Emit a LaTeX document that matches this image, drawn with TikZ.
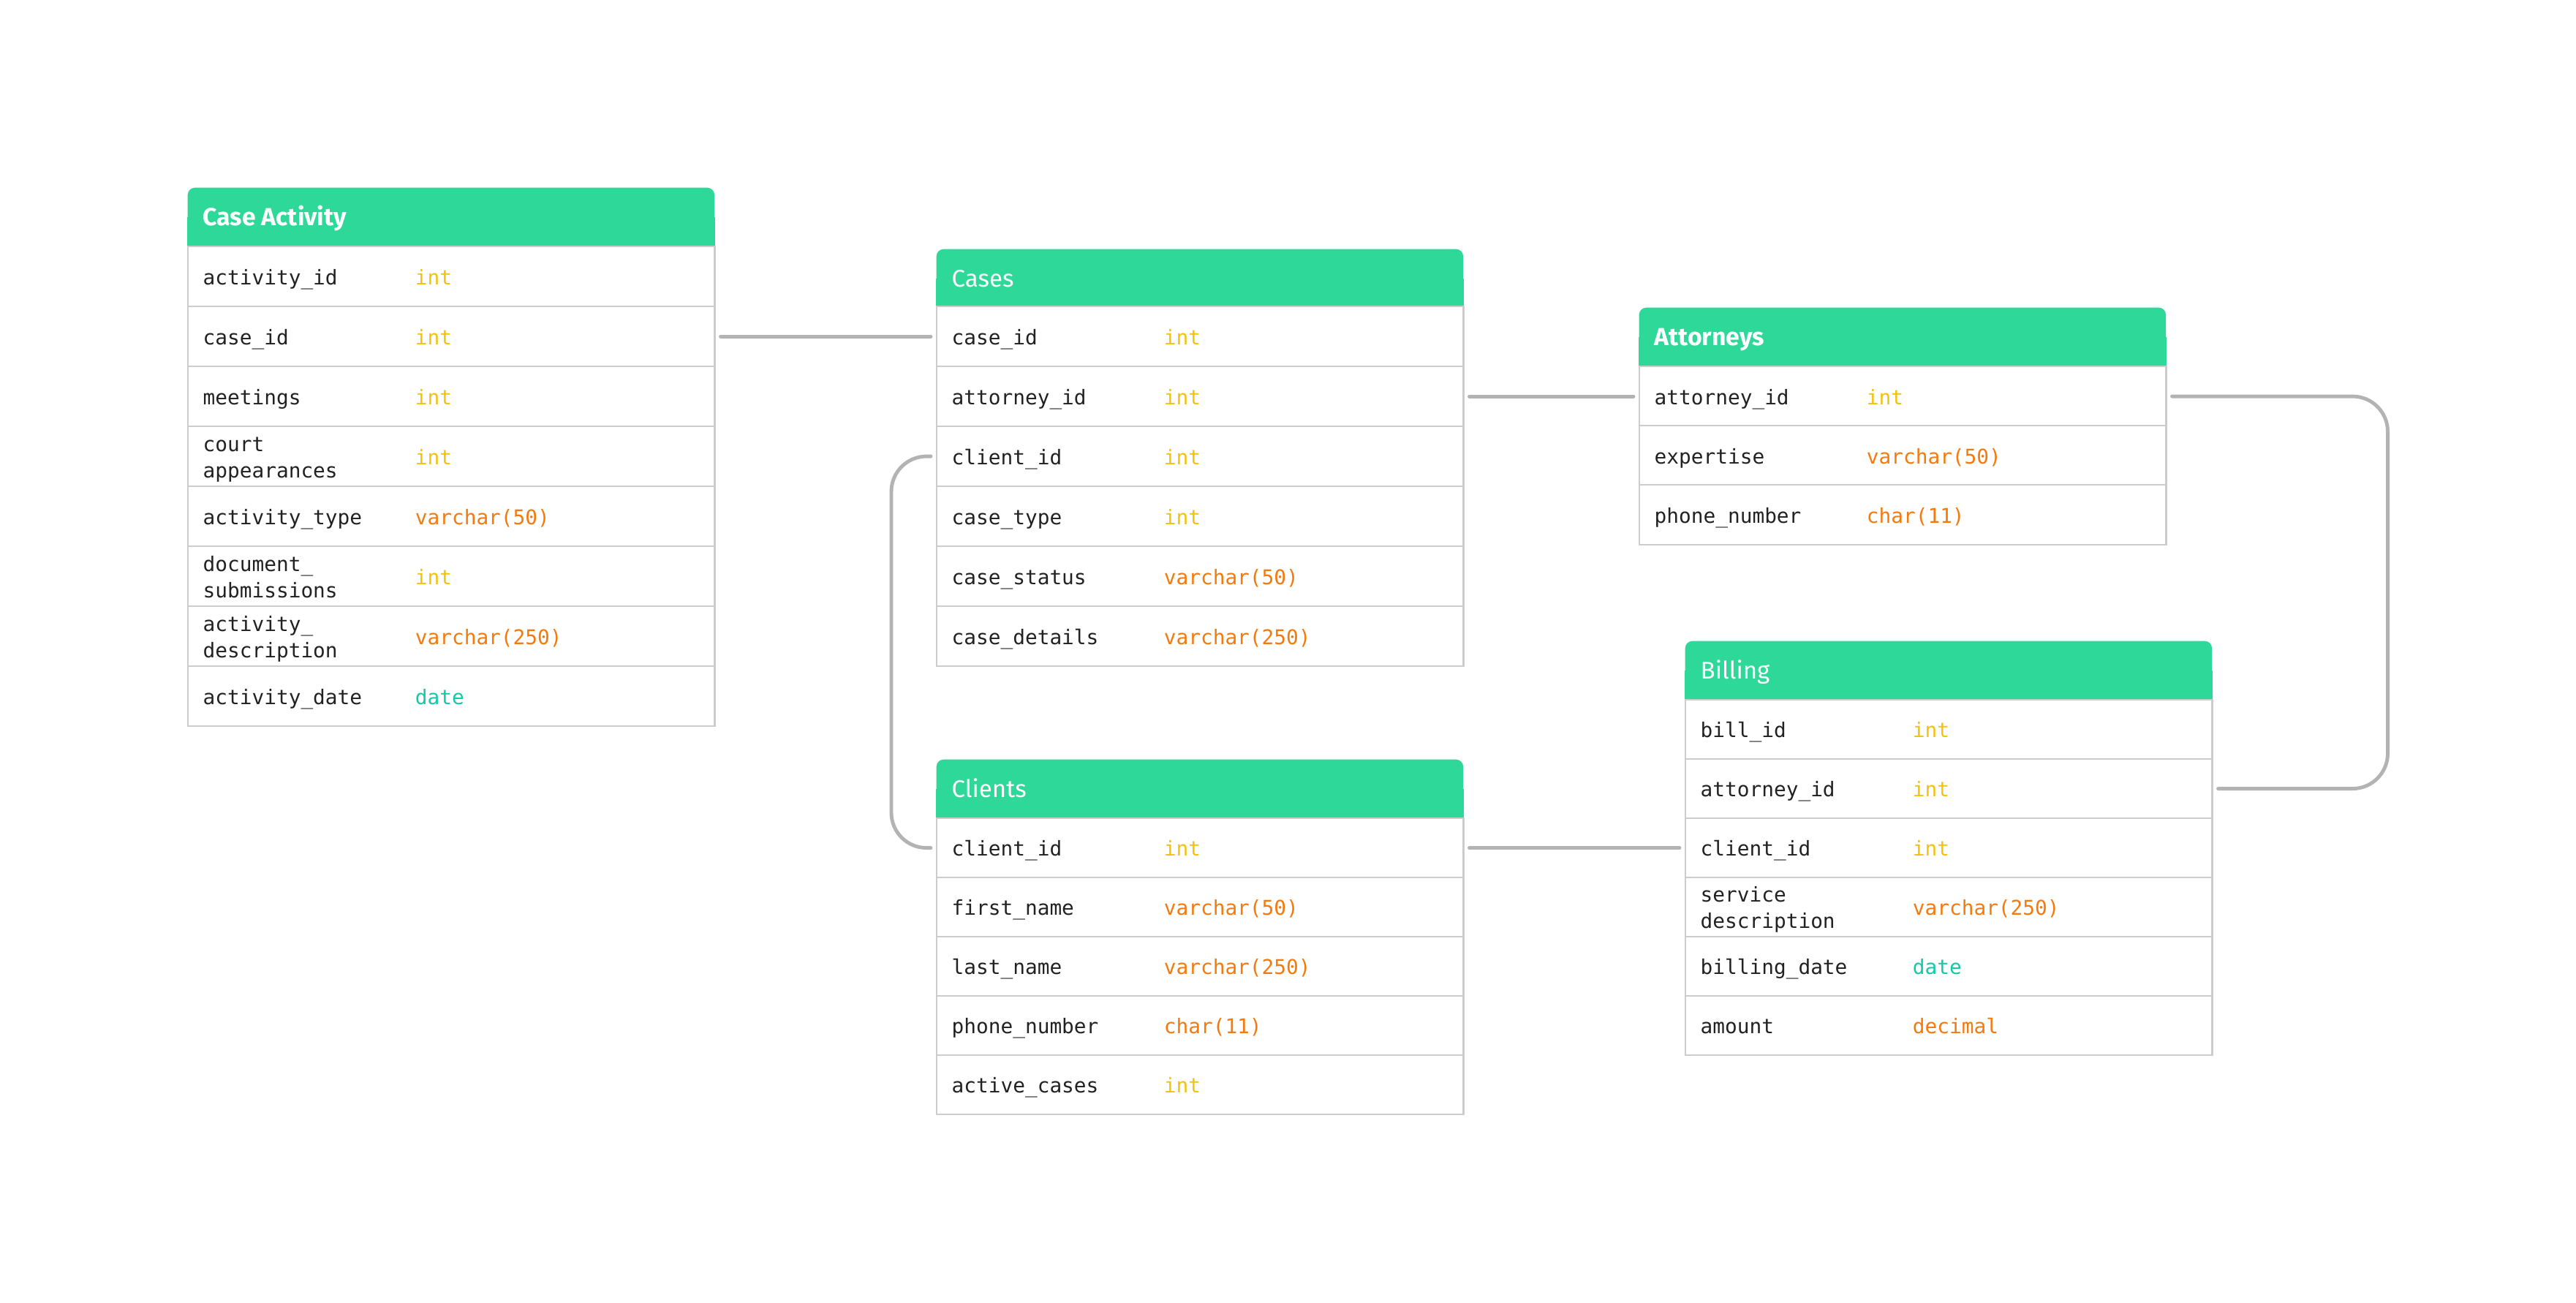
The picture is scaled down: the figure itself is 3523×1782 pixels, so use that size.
\documentclass[tikz,border=0pt]{standalone}
\usepackage{fontspec}
\setmainfont{Fira Sans}
\setmonofont{DejaVu Sans Mono}
\usepackage{tikz}
\usetikzlibrary{positioning}

\definecolor{hdrgreen}{HTML}{2ED898}
\definecolor{intyellow}{HTML}{F4C20D}
\definecolor{charorange}{HTML}{F57A0E}
\definecolor{dateteal}{HTML}{14C8A8}
\definecolor{rowline}{HTML}{CCCCCC}
\definecolor{linkgray}{HTML}{B3B3B3}
\definecolor{fieldtext}{HTML}{222222}

\tikzset{
  header/.style={fill=hdrgreen, rounded corners=2.8pt, minimum width=7.2cm, minimum height=0.8cm, anchor=north west, inner sep=0},
  title/.style={text=white, anchor=west, inner sep=0, text height=0.23cm, text depth=0cm, font=\fontsize{9.4pt}{11pt}\selectfont},
  row/.style={draw=rowline, line width=0.6pt, fill=white, minimum width=7.2cm, minimum height=0.82cm, anchor=north west, inner sep=0},
  field/.style={anchor=west, inner sep=0, align=left, text=fieldtext, font=\ttfamily\fontsize{7.9pt}{10.2pt}\selectfont},
  oneline/.style={text height=0.22cm, text depth=0cm},
  twoline/.style={text height=0.58cm, text depth=0cm},
  link/.style={draw=linkgray, line width=1.4pt, line cap=round, rounded corners=13.7pt, shorten <=2pt, shorten >=2pt}
}

\begin{document}
\begin{tikzpicture}[x=0.01cm, y=-0.01cm]
    \useasboundingbox (0,0) rectangle (3523,1782);
    \fill[white] (0,0) rectangle (3523,1782);

    % Case Activity table
    \node[header] (ca) at (256,256) {};
    \fill[hdrgreen] (ca.west) rectangle (ca.south east);
    \node[title, font=\fontsize{9.6pt}{11pt}\selectfont\bfseries] (ca-title) at ([xshift=0.21cm]ca.west) {Case Activity};
    \foreach \i/\fd/\ty/\col/\st in {1/activity\_id/int/intyellow/oneline, 2/case\_id/int/intyellow/oneline, 3/meetings/int/intyellow/oneline, 4/{court\\appearances}/int/intyellow/twoline, 5/activity\_type/varchar(50)/charorange/oneline, 6/{document\_\\submissions}/int/intyellow/twoline, 7/{activity\_\\description}/varchar(250)/charorange/twoline, 8/activity\_date/date/dateteal/oneline} {
      \node[row] (ca-r\i) at (256, {336+(\i-1)*82}) {};
      \node[field, \st] (ca-f\i) at ([xshift=0.21cm]ca-r\i.west) {\fd};
      \node[field, oneline, text=\col] (ca-t\i) at ([xshift=3.11cm]ca-r\i.west) {\ty};
    }

    % Cases table
    \node[header] (cs) at (1280,340) {};
    \fill[hdrgreen] (cs.west) rectangle (cs.south east);
    \node[title] (cs-title) at ([xshift=0.21cm]cs.west) {Cases};
    \foreach \i/\fd/\ty/\col in {1/case\_id/int/intyellow, 2/attorney\_id/int/intyellow, 3/client\_id/int/intyellow, 4/case\_type/int/intyellow, 5/case\_status/varchar(50)/charorange, 6/case\_details/varchar(250)/charorange} {
      \node[row] (cs-r\i) at (1280, {418+(\i-1)*82}) {};
      \node[field, oneline] (cs-f\i) at ([xshift=0.21cm]cs-r\i.west) {\fd};
      \node[field, oneline, text=\col] (cs-t\i) at ([xshift=3.11cm]cs-r\i.west) {\ty};
    }

    % Attorneys table
    \node[header] (at) at (2241,420) {};
    \fill[hdrgreen] (at.west) rectangle (at.south east);
    \node[title, font=\fontsize{9.6pt}{11pt}\selectfont\bfseries] (at-title) at ([xshift=0.21cm]at.west) {Attorneys};
    \foreach \i/\fd/\ty/\col in {1/attorney\_id/int/intyellow, 2/expertise/varchar(50)/charorange, 3/phone\_number/char(11)/charorange} {
      \node[row] (at-r\i) at (2241, {500+(\i-1)*81}) {};
      \node[field, oneline] (at-f\i) at ([xshift=0.21cm]at-r\i.west) {\fd};
      \node[field, oneline, text=\col] (at-t\i) at ([xshift=3.11cm]at-r\i.west) {\ty};
    }

    % Billing table
    \node[header] (bl) at (2304,876) {};
    \fill[hdrgreen] (bl.west) rectangle (bl.south east);
    \node[title] (bl-title) at ([xshift=0.21cm]bl.west) {Billing};
    \foreach \i/\fd/\ty/\col/\st in {1/bill\_id/int/intyellow/oneline, 2/attorney\_id/int/intyellow/oneline, 3/client\_id/int/intyellow/oneline, 4/{service\\description}/varchar(250)/charorange/twoline, 5/billing\_date/date/dateteal/oneline, 6/amount/decimal/charorange/oneline} {
      \node[row, minimum height=0.81cm] (bl-r\i) at (2304, {956+(\i-1)*81}) {};
      \node[field, \st] (bl-f\i) at ([xshift=0.21cm]bl-r\i.west) {\fd};
      \node[field, oneline, text=\col] (bl-t\i) at ([xshift=3.11cm]bl-r\i.west) {\ty};
    }

    % Clients table
    \node[header] (cl) at (1280,1038) {};
    \fill[hdrgreen] (cl.west) rectangle (cl.south east);
    \node[title] (cl-title) at ([xshift=0.21cm]cl.west) {Clients};
    \foreach \i/\fd/\ty/\col in {1/client\_id/int/intyellow, 2/first\_name/varchar(50)/charorange, 3/last\_name/varchar(250)/charorange, 4/phone\_number/char(11)/charorange, 5/active\_cases/int/intyellow} {
      \node[row, minimum height=0.81cm] (cl-r\i) at (1280, {1118+(\i-1)*81}) {};
      \node[field, oneline] (cl-f\i) at ([xshift=0.21cm]cl-r\i.west) {\fd};
      \node[field, oneline, text=\col] (cl-t\i) at ([xshift=3.11cm]cl-r\i.west) {\ty};
    }

    % Relations
    \draw[link] (ca-r2.east) -- (cs-r1.west);
    \draw[link] (cs-r2.east) -- (at-r1.west);
    \draw[link] (cs-r3.west) -- ++(-61,0) |- (cl-r1.west);
    \draw[link] (at-r1.east) -- ++(302,0) |- (bl-r2.east);
    \draw[link] (cl-r1.east) -- (bl-r3.west);
\end{tikzpicture}
\end{document}
